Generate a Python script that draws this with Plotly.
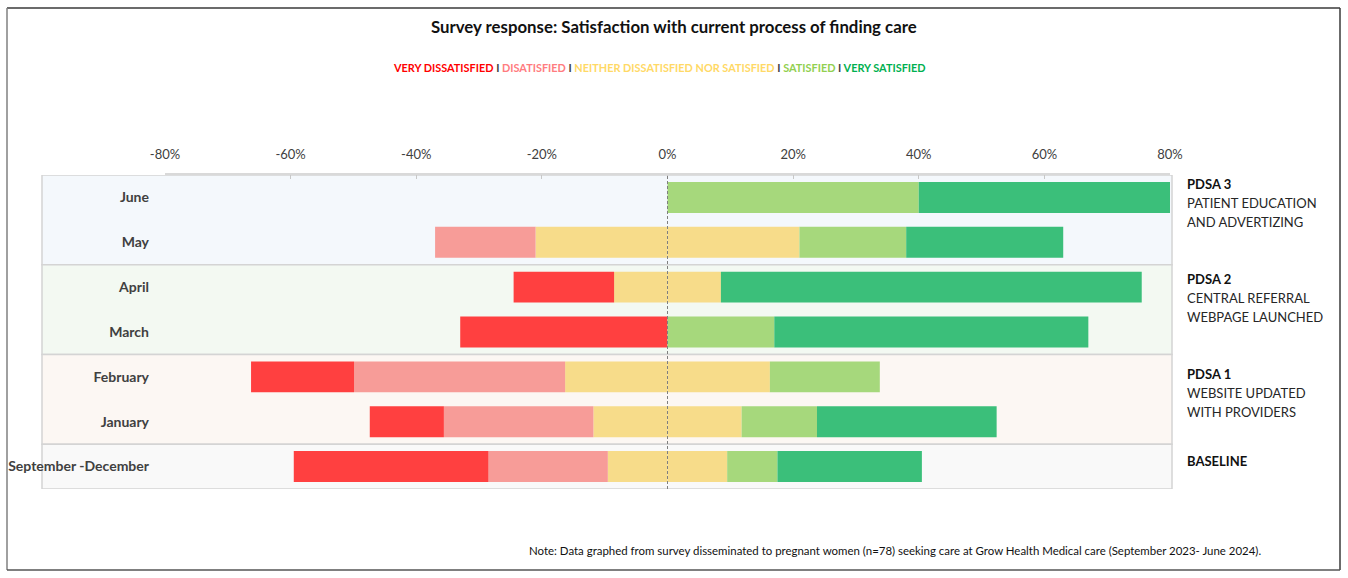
import plotly.graph_objects as go

# Survey periods, bottom to top
periods = ["September -December", "January", "February", "March", "April", "May", "June"]

# Share of responses per period (%)
very_dissatisfied = [31.0, 11.8, 16.4, 33.0, 16.0, 0.0, 0.0]
dissatisfied = [19.0, 23.8, 33.6, 0.0, 0.0, 16.0, 0.0]
neutral = [19.0, 23.6, 32.6, 0.0, 17.0, 42.0, 0.0]
satisfied = [8.0, 12.0, 17.5, 17.0, 0.0, 17.0, 40.0]
very_satisfied = [23.0, 28.6, 0.0, 50.0, 67.0, 25.0, 60.0]

tick_vals = [-80, -60, -40, -20, 0, 20, 40, 60, 80]
tick_text = ["-80%", "-60%", "-40%", "-20%", "0%", "20%", "40%", "60%", "80%"]

# Intervention phases: (first row, last row, heading, description lines, band colour)
phases = [
    (5, 6, "PDSA 3", ["PATIENT EDUCATION", "AND ADVERTIZING"], "#F4F8FC"),
    (3, 4, "PDSA 2", ["CENTRAL REFERRAL", "WEBPAGE LAUNCHED"], "#F3F9F2"),
    (1, 2, "PDSA 1", ["WEBSITE UPDATED", "WITH PROVIDERS"], "#FCF7F3"),
    (0, 0, "BASELINE", [], "#F9F9F9"),
]
# Vertical pixel centre of each phase heading
heading_y = [184, 279, 374, 461]

colors = {
    "vd": "#FF4040",
    "d": "#F79C98",
    "n": "#F7DC8A",
    "s": "#A6D87C",
    "vs": "#3BBF7A",
}

W, H = 1348, 578
L, R, T, B = 165, 1170, 175, 489
FONT = "Lato"


def px(x):
    return (x - L) / (R - L)


def py(y):
    return (B - y) / (B - T)


fig = go.Figure()

half_neutral = [v / 2 for v in neutral]
series = [
    ("Neither (neg)", [-v for v in half_neutral], colors["n"]),
    ("Neither (pos)", half_neutral, colors["n"]),
    ("Dissatisfied", [-v for v in dissatisfied], colors["d"]),
    ("Very dissatisfied", [-v for v in very_dissatisfied], colors["vd"]),
    ("Satisfied", satisfied, colors["s"]),
    ("Very satisfied", very_satisfied, colors["vs"]),
]
for name, vals, col in series:
    fig.add_trace(go.Bar(
        y=periods, x=vals, orientation="h", name=name,
        marker=dict(color=col, line=dict(width=0)),
        width=0.69, showlegend=False, hoverinfo="x+y",
    ))

shapes = []
annotations = []

# Phase background bands and side captions
for (lo, hi, head, lines, col), hy in zip(phases, heading_y):
    shapes.append(dict(
        type="rect", layer="below", xref="paper", yref="y",
        x0=px(42), x1=px(1172), y0=lo - 0.5, y1=hi + 0.5,
        fillcolor=col, line=dict(color="#D4D4D4", width=1.5),
    ))
    annotations.append(dict(
        xref="paper", yref="paper", x=px(1185), y=py(hy),
        xanchor="left", yanchor="middle", showarrow=False,
        text="<b>" + head + "</b>", font=dict(family=FONT, size=13, color="#111111"),
    ))
    for i, ln in enumerate(lines):
        annotations.append(dict(
            xref="paper", yref="paper", x=px(1185), y=py(hy + 19 * (i + 1)),
            xanchor="left", yanchor="middle", showarrow=False,
            text=ln, font=dict(family=FONT, size=13, color="#262626"),
        ))

# Dashed zero reference line
shapes.append(dict(
    type="line", xref="x", yref="paper", x0=0, x1=0, y0=0, y1=1,
    line=dict(color="#7F7F7F", width=1, dash="3px,2px"),
))

# Outer frame
frame = [
    (7, 8, 1340, 8, "#3A3A3A"),
    (7, 8, 7, 570, "#808080"),
    (1340, 8, 1340, 570, "#3A3A3A"),
    (7, 570, 1340, 570, "#555555"),
]
for x0, y0, x1, y1, col in frame:
    shapes.append(dict(
        type="line", xref="paper", yref="paper",
        x0=px(x0), y0=py(y0), x1=px(x1), y1=py(y1),
        line=dict(color=col, width=1.5),
    ))

# Title
annotations.append(dict(
    xref="paper", yref="paper", x=px(674), y=py(26), xanchor="center", yanchor="middle",
    showarrow=False, text="<b>Survey response: Satisfaction with current process of finding care</b>",
    font=dict(family=FONT, size=16.8, color="#111111"),
))

# Colour key line
sep = "<span style='color:#404040'> I </span>"
key = (
    "<span style='color:#FF0000'>VERY DISSATISFIED</span>" + sep
    + "<span style='color:#FF7C80'>DISATISFIED</span>" + sep
    + "<span style='color:#FFD966'>NEITHER DISSATISFIED NOR SATISFIED</span>" + sep
    + "<span style='color:#92D050'>SATISFIED</span>" + sep
    + "<span style='color:#00B050'>VERY SATISFIED</span>"
)
annotations.append(dict(
    xref="paper", yref="paper", x=px(659), y=py(67), xanchor="center", yanchor="middle",
    showarrow=False, text="<b>" + key + "</b>", font=dict(family=FONT, size=10.9),
))

# Footnote
annotations.append(dict(
    xref="paper", yref="paper", x=px(527), y=py(550), xanchor="left", yanchor="middle",
    showarrow=False,
    text="Note: Data graphed from survey disseminated to pregnant women (n=78) seeking care at Grow Health Medical care (September 2023- June 2024).",
    font=dict(family=FONT, size=11.45, color="#111111"),
))

fig.update_layout(
    width=W, height=H,
    margin=dict(l=L, r=W - R, t=T, b=H - B, pad=0, autoexpand=False),
    paper_bgcolor="white", plot_bgcolor="rgba(0,0,0,0)",
    barmode="relative", bargap=0.31,
    shapes=shapes, annotations=annotations,
    xaxis=dict(
        side="top", range=[-80, 80], tickvals=tick_vals, ticktext=tick_text,
        showgrid=False, zeroline=False, showline=True, linecolor="#D9D9D9", linewidth=1.5,
        ticks="inside", ticklen=4, tickcolor="#C8C8C8",
        tickfont=dict(family=FONT, size=13, color="#404040"), ticklabelstandoff=9,
        fixedrange=True, automargin=False,
    ),
    yaxis=dict(
        categoryorder="array", categoryarray=periods, range=[-0.5, 6.5],
        showgrid=False, zeroline=False, showline=False, ticks="",
        tickfont=dict(family=FONT, size=14, color="#404040", weight="bold"),
        ticklabelstandoff=15, fixedrange=True, automargin=False,
    ),
    font=dict(family=FONT),
)

fig.write_html("out.html")
